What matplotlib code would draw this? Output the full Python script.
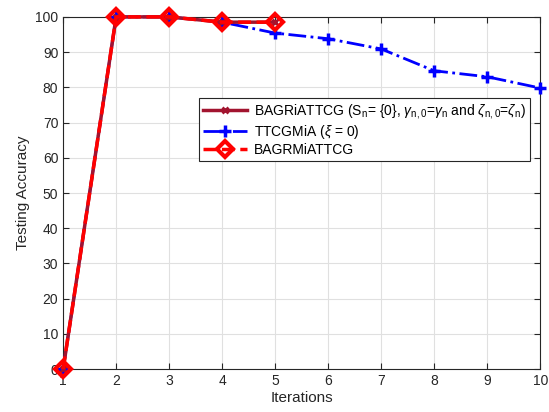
import matplotlib.pyplot as plt
import numpy as np

plt.rcParams['font.family'] = ['Liberation Sans', 'DejaVu Sans']
plt.rcParams['mathtext.fontset'] = 'custom'
plt.rcParams['mathtext.rm'] = 'Liberation Sans'
plt.rcParams['mathtext.it'] = 'Liberation Sans:italic'

iters_short = [1, 2, 3, 4, 5]
iters_long = [1, 2, 3, 4, 5, 6, 7, 8, 9, 10]
bagriattcg = [0, 100, 100, 98.5, 98.5]
ttcgmia = [0, 100, 100, 98.5, 95.4, 93.8, 90.9, 84.7, 83.0, 79.8]
bagrmiattcg = [0, 100, 100, 98.5, 98.5]

labels = [r'BAGRiATTCG (S$_{\mathrm{n}}$= {0}, $\gamma_{\mathrm{n,0}}$=$\gamma_{\mathrm{n}}$ and $\zeta_{\mathrm{n,0}}$=$\zeta_{\mathrm{n}}$)',
          r'TTCGMiA ($\xi$ = 0)',
          'BAGRMiATTCG']

fig = plt.figure(figsize=(5.49, 4.12), dpi=100)
ax = fig.add_axes([0.115, 0.104, 0.869, 0.855])

h2, = ax.plot(iters_long, ttcgmia, '-.', color='blue', lw=2, marker='+',
              ms=8, mew=2.5, label=labels[1], zorder=3, clip_on=False)
h1, = ax.plot(iters_short, bagriattcg, '-', color='#a2142f', lw=2.5, marker='x',
              ms=5, mew=2, label=labels[0], zorder=4, clip_on=False)
h3, = ax.plot(iters_short, bagrmiattcg, '--', color='red', lw=2.5, marker='D',
              ms=8, mew=3, mfc='none', label=labels[2], zorder=5, clip_on=False)

ax.set_xlim(1, 10)
ax.set_ylim(0, 100)
ax.set_xticks(np.arange(1, 11))
ax.set_yticks(np.arange(0, 101, 10))
ax.grid(True, color='#e0e0e0', lw=0.8)
ax.set_axisbelow(True)
ax.tick_params(direction='in', top=True, right=True, labelsize=10, colors='#262626', length=4)
for s in ax.spines.values():
    s.set_color('#262626')
    s.set_linewidth(0.8)
ax.set_xlabel('Iterations', fontsize=11, color='#262626', labelpad=2)
ax.set_ylabel('Testing Accuracy', fontsize=11, color='#262626')

leg = ax.legend(handles=[h1, h2, h3], loc='upper right', bbox_to_anchor=(0.979, 0.77),
                borderaxespad=0, fontsize=10, fancybox=False, edgecolor='#262626',
                framealpha=1, borderpad=0.3, labelspacing=0.15, handlelength=3.2,
                handletextpad=0.5)
leg.get_frame().set_linewidth(0.8)

fig.savefig('out.png', dpi=100)
